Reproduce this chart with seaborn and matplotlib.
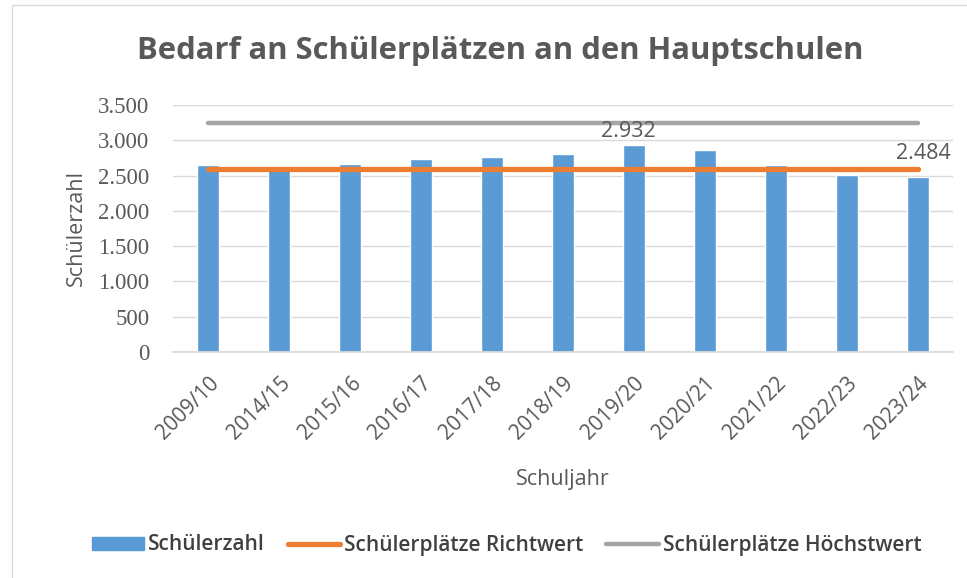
import matplotlib
matplotlib.use("Agg")
import matplotlib.pyplot as plt
import seaborn as sns
import numpy as np
from matplotlib.patches import Patch, Rectangle
from matplotlib.lines import Line2D
from matplotlib.ticker import FuncFormatter

years = ["2009/10", "2014/15", "2015/16", "2016/17", "2017/18", "2018/19",
         "2019/20", "2020/21", "2021/22", "2022/23", "2023/24"]
schuelerzahl = [2646, 2595, 2664, 2740, 2770, 2806, 2932, 2862, 2646, 2508, 2484]
richtwert = [2600, 2600, 2600, 2600, 2600, 2600, 2600, 2600, 2600, 2600, 2600]
hoechstwert = [3250, 3250, 3250, 3250, 3250, 3250, 3250, 3250, 3250, 3250, 3250]
yticks = [0, 500, 1000, 1500, 2000, 2500, 3000, 3500]
labelled = {"2019/20": 2932, "2023/24": 2484}

BLUE = "#5B9BD5"
ORANGE = "#ED7D31"
GRAY = "#A5A5A5"
TXT = "#595959"
GRID = "#D9D9D9"

sns.set_theme(style="white")
plt.rcParams["font.family"] = ["Open Sans", "DejaVu Sans"]

fig = plt.figure(figsize=(9.67, 5.78), dpi=100)
ax = fig.add_axes([173/967, 1-352/578, (953-173)/967, (352-105)/578])

sns.barplot(x=years, y=schuelerzahl, color=BLUE, saturation=1, width=0.31, ax=ax, zorder=2)
pos = np.arange(len(years))
ax.plot(pos, richtwert, color=ORANGE, lw=3.8, solid_capstyle="round", zorder=3)
ax.plot(pos, hoechstwert, color=GRAY, lw=3.2, solid_capstyle="round", zorder=3)

ax.set_ylim(0, 3500)
ax.set_xlim(-0.5, len(years) - 0.5)
ax.set_yticks(yticks)
ax.yaxis.set_major_formatter(FuncFormatter(lambda v, p: f"{int(v):,}".replace(",", ".")))
ax.grid(axis="y", color=GRID, lw=1, zorder=0)
ax.set_axisbelow(True)
for s in ["top", "right", "left"]:
    ax.spines[s].set_visible(False)
ax.spines["bottom"].set_color(GRID)
ax.tick_params(axis="y", length=0, pad=17, colors=TXT)
ax.tick_params(axis="x", length=0, pad=15, colors=TXT)
for lab in ax.get_yticklabels():
    lab.set_fontfamily("Liberation Serif")
    lab.set_fontsize(16.5)
for lab in ax.get_xticklabels():
    lab.set_rotation(45)
    lab.set_ha("right")
    lab.set_rotation_mode("anchor")
    lab.set_fontsize(15)

ax.set_ylabel("Schülerzahl", fontsize=15.5, color=TXT, labelpad=8)
ax.set_xlabel("Schuljahr", fontsize=15.5, color=TXT, labelpad=18)

offsets = {"2019/20": (-4, 2), "2023/24": (4, 9)}
for yr, val in labelled.items():
    i = years.index(yr)
    ax.annotate(f"{val:,}".replace(",", "."), (i, val), xytext=offsets[yr],
                textcoords="offset points", ha="center", va="bottom",
                fontsize=15.5, color=TXT)

fig.text(0.517, 1-51/578, "Bedarf an Schülerplätzen an den Hauptschulen",
         ha="center", va="center", fontsize=22.3, fontweight="bold", color=TXT)

handles = [Patch(facecolor=BLUE, edgecolor=BLUE),
           Line2D([0], [0], color=ORANGE, lw=3.8),
           Line2D([0], [0], color=GRAY, lw=3.2)]
labels = ["Schülerzahl", "Schülerplätze Richtwert", "Schülerplätze Höchstwert"]
leg = fig.legend(handles, labels, loc="center", bbox_to_anchor=(0.524, 1-545/578), ncol=3,
                 frameon=False, fontsize=15, handlelength=2.5, handleheight=0.6,
                 handletextpad=0.2, columnspacing=1.1, labelcolor="#404040")
for t in leg.get_texts():
    t.set_fontweight("semibold")

fig.patches.append(Rectangle((12/967, -0.1), 1.2, 1-5/578+0.1, transform=fig.transFigure,
                             fill=False, edgecolor=GRID, lw=1))

fig.savefig("out.png", dpi=100)
